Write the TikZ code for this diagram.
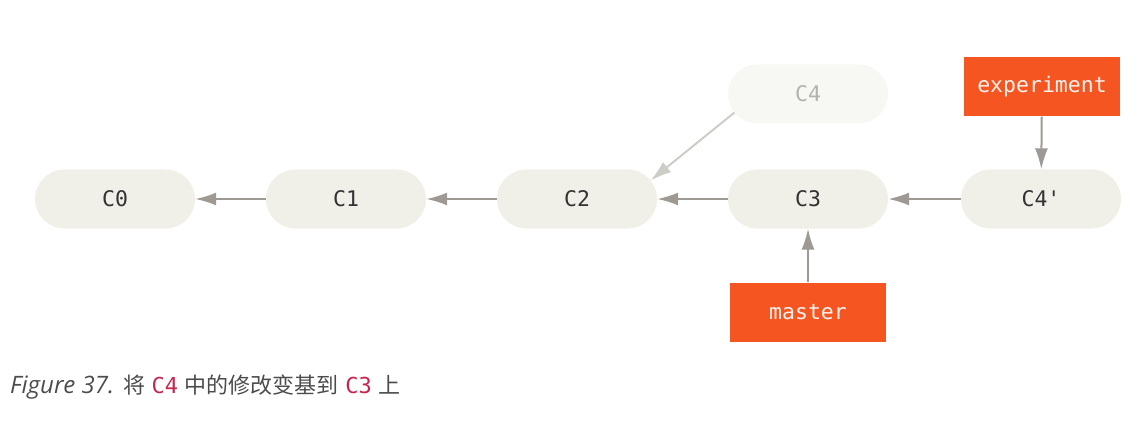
\documentclass[tikz,border=0pt]{standalone}
\usepackage{fontspec}
\setmonofont{DejaVu Sans Mono}
\newfontfamily\captionfont{Open Sans}
\newfontfamily\cjk{Noto Sans CJK SC}
\usetikzlibrary{arrows.meta,calc}

\definecolor{CommitColor}{RGB}{240,239,232}
\definecolor{OldCommitColor}{RGB}{247,247,243}
\definecolor{BranchColor}{RGB}{245,85,32}
\definecolor{LineColor}{RGB}{158,154,147}
\definecolor{OldLineColor}{RGB}{205,205,200}
\definecolor{CodeColor}{RGB}{199,37,78}
\tikzstyle{commit-base}=[rectangle,
                         rounded corners=29.5pt,
                         text centered,
                         minimum width=160pt,
                         minimum height=59pt,
                         font=\ttfamily\fontsize{21.5}{24}\selectfont
                        ]
\tikzstyle{commit}=[commit-base,
                    fill={CommitColor},
                    text={black!80}]
\tikzstyle{oldcommit}=[commit-base,
                       fill={OldCommitColor},
                       text={black!30}]
\tikzstyle{branch}=[commit-base,
                    rounded corners=0pt,
                    minimum width=156pt,
                    fill={BranchColor},
                    text={white!92!BranchColor}]
\tikzstyle{parent}=[draw={LineColor}, line width=2pt,
                    -{Latex[length=21pt,width=13pt]}]

\begin{document}
\begin{tikzpicture}[x=1pt, y=-1pt]

\useasboundingbox (0,0) rectangle (1139,422);

\node at (115, 199) (C0) [commit] {C0};
\node at (346, 199) (C1) [commit] {C1};
\node at (577, 199) (C2) [commit] {C2};
\node at (808, 199) (C3) [commit] {C3};
\node at (1041, 199) (C4new) [commit] {C4'};
\node at (808, 94) (C4old) [oldcommit] {C4};

\node at (1042, 87) (experiment) [branch] {experiment};
\node at (808, 312) (master) [branch] {master};

\draw[parent] (C1) -- (C0);
\draw[parent] (C2) -- (C1);
\draw[parent] (C3) -- (C2);
\draw[parent] (C4new) -- (C3);
\draw[parent, draw={OldLineColor}, shorten <=29.5pt, shorten >=29.5pt]
  ($(C4old.west)+(29.5,0)$) -- ($(C2.east)+(-29.5,0)$);
\draw[parent] (experiment) -- (C4new);
\draw[parent] (master) -- (C3);

\node at (10, 393) (caption) [anchor=base west, inner sep=0pt,
  font=\fontsize{22}{26}\selectfont, text={black!70}]
  {{\captionfont\itshape\fontsize{24}{26}\selectfont Figure 37.} {\cjk 将} {\ttfamily\color{CodeColor}C4} {\cjk 中的修改变基到} {\ttfamily\color{CodeColor}C3} {\cjk 上}};

\end{tikzpicture}
\end{document}
